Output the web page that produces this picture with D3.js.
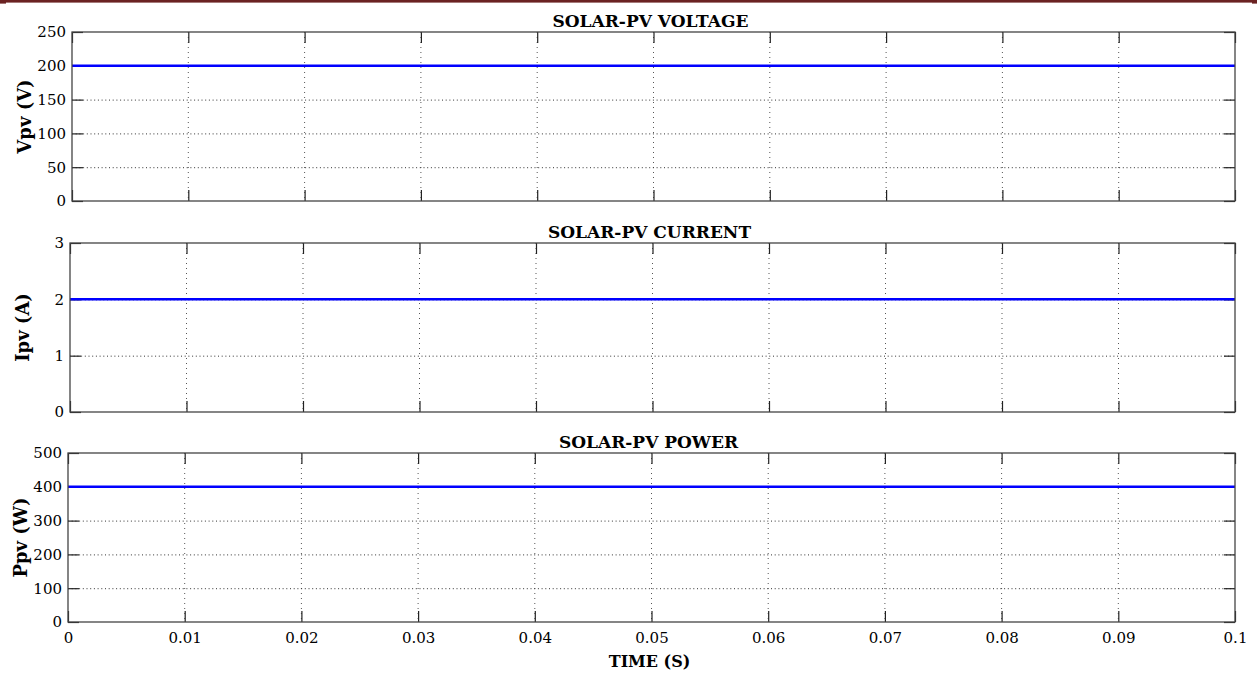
<!DOCTYPE html>
<html>
<head>
<meta charset="utf-8">
<script src="https://cdn.jsdelivr.net/npm/d3@7"></script>
<style>
  html, body { margin: 0; padding: 0; background: #fff; }
  svg { display: block; }
  text { font-family: "DejaVu Serif", "Liberation Serif", serif; fill: #000; }
</style>
</head>
<body>
<svg id="chart" width="1257" height="679"></svg>
<script>
// Simulation samples (time in seconds)
const timeS = [0, 0.01, 0.02, 0.03, 0.04, 0.05, 0.06, 0.07, 0.08, 0.09, 0.1];
const vpv   = [200, 200, 200, 200, 200, 200, 200, 200, 200, 200, 200];
const ipv   = [2, 2, 2, 2, 2, 2, 2, 2, 2, 2, 2];
const ppv   = [400, 400, 400, 400, 400, 400, 400, 400, 400, 400, 400];

// Axis ticks and labels
const xTicks = [0, 0.01, 0.02, 0.03, 0.04, 0.05, 0.06, 0.07, 0.08, 0.09, 0.1];
const xTickLabels = ["0", "0.01", "0.02", "0.03", "0.04", "0.05", "0.06", "0.07", "0.08", "0.09", "0.1"];
const vTicks = [0, 50, 100, 150, 200, 250];
const iTicks = [0, 1, 2, 3];
const pTicks = [0, 100, 200, 300, 400, 500];

const titles = ["SOLAR-PV VOLTAGE", "SOLAR-PV CURRENT", "SOLAR-PV POWER"];
const yLabels = ["Vpv (V)", "Ipv (A)", "Ppv (W)"];
const xLabel = "TIME (S)";

const svg = d3.select("#chart");

// Header rule
svg.append("rect").attr("x", 0).attr("y", 0).attr("width", 1253).attr("height", 2.6).attr("fill", "#6b2222");
svg.append("rect").attr("x", 0).attr("y", 0).attr("width", 6).attr("height", 3.6).attr("fill", "#6b2222");
svg.append("rect").attr("x", 1252).attr("y", 0).attr("width", 5).attr("height", 3.6).attr("fill", "#6b2222");

const panels = [
  { left: 72, top: 32, bottom: 201, values: vpv, ticks: vTicks, domain: [0, 250] },
  { left: 70, top: 243, bottom: 412, values: ipv, ticks: iTicks, domain: [0, 3] },
  { left: 68, top: 453, bottom: 622, values: ppv, ticks: pTicks, domain: [0, 500] }
];
const right = 1235;
const tickLen = 11;

panels.forEach((p, i) => {
  const g = svg.append("g");
  const x = d3.scaleLinear().domain([0, 0.1]).range([p.left, right]);
  const y = d3.scaleLinear().domain(p.domain).range([p.bottom, p.top]);

  // dotted grid
  g.append("g").selectAll("line").data(xTicks.slice(1, -1)).join("line")
    .attr("x1", d => x(d)).attr("x2", d => x(d))
    .attr("y1", p.top).attr("y2", p.bottom)
    .attr("stroke", "#555").attr("stroke-width", 1)
    .attr("stroke-dasharray", "1,4");
  g.append("g").selectAll("line").data(p.ticks.slice(1, -1)).join("line")
    .attr("x1", p.left).attr("x2", right)
    .attr("y1", d => y(d) + 0.5).attr("y2", d => y(d) + 0.5)
    .attr("stroke", "#333").attr("stroke-width", 1)
    .attr("stroke-dasharray", "1,2.7");

  // inward ticks on all four sides
  const axL = g.append("g").attr("transform", `translate(${p.left},0)`)
    .call(d3.axisLeft(y).tickValues(p.ticks).tickSizeInner(-tickLen).tickSizeOuter(0).tickPadding(6).tickFormat(d3.format("d")));
  const axR = g.append("g").attr("transform", `translate(${right},0)`)
    .call(d3.axisRight(y).tickValues(p.ticks).tickSizeInner(-tickLen).tickSizeOuter(0).tickFormat(""));
  const axT = g.append("g").attr("transform", `translate(0,${p.top})`)
    .call(d3.axisTop(x).tickValues(xTicks).tickSizeInner(-tickLen).tickSizeOuter(0).tickFormat(""));
  const axB = g.append("g").attr("transform", `translate(0,${p.bottom})`)
    .call(d3.axisBottom(x).tickValues(xTicks).tickSizeInner(-tickLen).tickSizeOuter(0).tickPadding(10)
      .tickFormat((d, k) => i === 2 ? xTickLabels[k] : ""));
  [axL, axR, axT, axB].forEach(a => {
    a.select(".domain").remove();
    a.selectAll(".tick line").attr("stroke", "#222").attr("stroke-width", 1.2);
    a.selectAll("text").attr("font-size", 15).attr("font-family", "DejaVu Serif").attr("fill", "#000");
  });

  // data line
  const line = d3.line().x((d, k) => x(timeS[k])).y(d => y(d));
  g.append("path").datum(p.values).attr("d", line)
    .attr("fill", "none").attr("stroke", "#0000ff").attr("stroke-width", 2.5);

  // axes box
  g.append("rect").attr("x", p.left).attr("y", p.top)
    .attr("width", right - p.left).attr("height", p.bottom - p.top)
    .attr("fill", "none").attr("stroke", "#444").attr("stroke-width", 1.3);

  // title
  g.append("text").attr("x", (p.left + right) / 2 - 3).attr("y", p.top - 5)
    .attr("text-anchor", "middle").attr("font-weight", "bold").attr("font-size", 17)
    .text(titles[i]);

  // y label
  g.append("text")
    .attr("transform", `translate(${p.left - 41},${(p.top + p.bottom) / 2}) rotate(-90)`)
    .attr("text-anchor", "middle").attr("font-weight", "bold").attr("font-size", 18)
    .text(yLabels[i]);

  if (i === 2) {
    g.append("text").attr("x", (p.left + right) / 2 - 2).attr("y", 667)
      .attr("text-anchor", "middle").attr("font-weight", "bold").attr("font-size", 16)
      .text(xLabel);
  }
});
</script>
</body>
</html>
